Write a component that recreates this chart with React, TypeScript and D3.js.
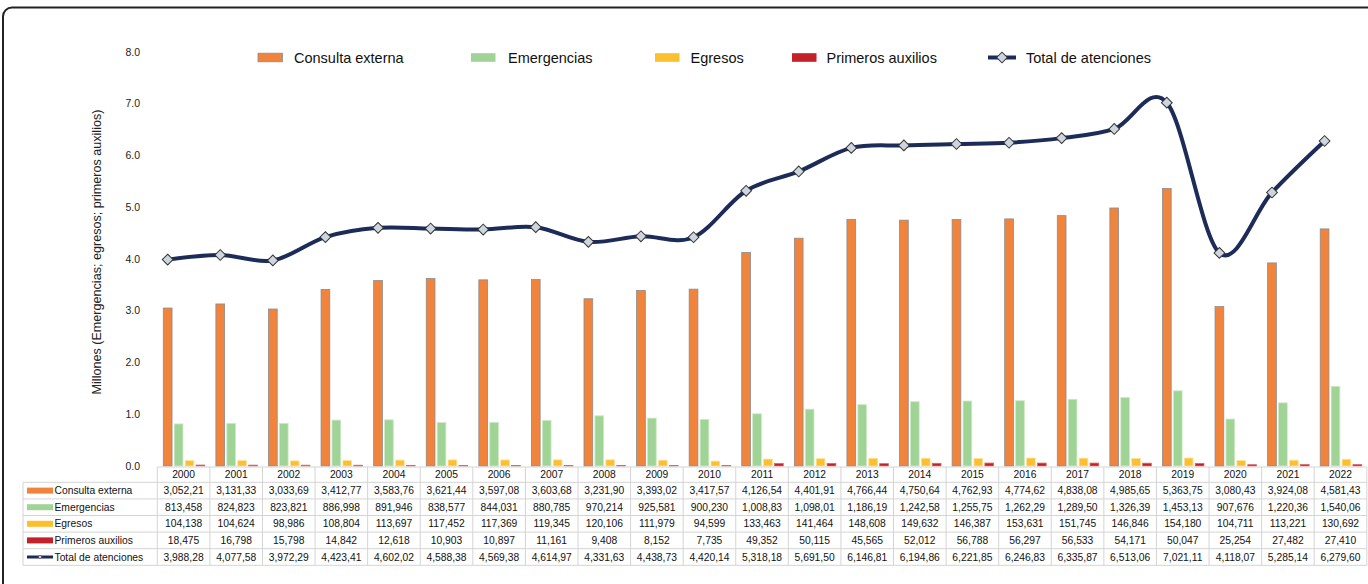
import React from "react";
import * as d3 from "d3";

const years = ["2000","2001","2002","2003","2004","2005","2006","2007","2008","2009","2010","2011","2012","2013","2014","2015","2016","2017","2018","2019","2020","2021","2022"];
const consultaExterna = [3052210,3131330,3033690,3412770,3583760,3621440,3597080,3603680,3231900,3393020,3417570,4126540,4401910,4766440,4750640,4762930,4774620,4838080,4985650,5363750,3080430,3924080,4581430];
const emergencias = [813458,824823,823821,886998,891946,838577,844031,880785,970214,925581,900230,1008830,1098010,1186190,1242580,1255750,1262290,1289500,1326390,1453130,907676,1220360,1540060];
const egresos = [104138,104624,98986,108804,113697,117452,117369,119345,120106,111979,94599,133463,141464,148608,149632,146387,153631,151745,146846,154180,104711,113221,130692];
const primerosAuxilios = [18475,16798,15798,14842,12618,10903,10897,11161,9408,8152,7735,49352,50115,45565,52012,56788,56297,56533,54171,50047,25254,27482,27410];
const totalAtenciones = [3988280,4077580,3972290,4423410,4602020,4588380,4569380,4614970,4331630,4438730,4420140,5318180,5691500,6146810,6194860,6221850,6246830,6335870,6513060,7021110,4118070,5285140,6279600];
const yTicks = [0,1,2,3,4,5,6,7,8];

const barSeries = [
  { name: "Consulta externa", values: consultaExterna, fill: "#F0843C", stroke: "#8c8c8c" },
  { name: "Emergencias", values: emergencias, fill: "#A0D496", stroke: "#cfe9c9" },
  { name: "Egresos", values: egresos, fill: "#FDBF2D", stroke: "#fde3a0" },
  { name: "Primeros auxilios", values: primerosAuxilios, fill: "#C4202A", stroke: "#d66" },
];
const lineName = "Total de atenciones";

const FONT = "'Liberation Sans', Arial, Helvetica, sans-serif";
const NAVY = "#1C2B58";

function fmt(v: number) {
  const s = d3.format(",")(v);
  return v >= 1e6 ? s.slice(0, -1) : s;
}

export default function App() {
  const W = 1368, H = 584;
  const x0 = 157.3, x1 = 1366.8;
  const x = d3.scaleBand<string>().domain(years).range([x0, x1]).padding(0);
  const step = x.step();
  const inner = d3.scaleBand<string>().domain(barSeries.map(s => s.name)).range([6, 47.5]).paddingInner(0.2);
  const y = d3.scaleLinear().domain([0, 8]).range([466, 52]);

  const lineX = (i: number) => (x(years[i]) as number) + (inner(barSeries[0].name) as number) + inner.bandwidth() / 2;
  const line = d3.line<number>()
    .x((_, i) => lineX(i))
    .y(d => y(d / 1e6))
    .curve(d3.curveCardinal.tension(0));
  const diamond = d3.symbol().type(d3.symbolSquare).size(58)();

  // table
  const tTop = 467, headerH = 15.3, rowH = 16.6, labelX = 23;
  const rows = [...barSeries.map(s => ({ name: s.name, values: s.values, fill: s.fill, line: false })), { name: lineName, values: totalAtenciones, fill: NAVY, line: true }];
  const tBottom = tTop + headerH + rows.length * rowH;
  const gridColor = "#d4d4d4";

  const legendItems = [
    { sx: 258, tx: 294 },
    { sx: 471, tx: 508 },
    { sx: 655, tx: 690.5 },
    { sx: 792, tx: 826.5 },
    { sx: 988, tx: 1026 },
  ];

  return (
    <svg width={W} height={H} style={{ position: "absolute", left: 0, top: 0, background: "#fff" }} fontFamily={FONT}>
      <rect x={3} y={7.5} width={1400} height={620} rx={9} fill="none" stroke="#222" strokeWidth={2} />

      {/* y axis labels */}
      {yTicks.map(t => (
        <text key={t} x={140} y={y(t)} dy="0.35em" textAnchor="end" fontSize={10.5} fill="#222">{t.toFixed(1)}</text>
      ))}
      <text transform={`translate(97,${252}) rotate(-90)`} textAnchor="middle" dy="0.35em" fontSize={12.6} fill="#222">
        Millones (Emergencias; egresos; primeros auxilios)
      </text>

      {/* bars */}
      {barSeries.map(s => (
        <g key={s.name}>
          {s.values.map((v, i) => {
            const bx = (x(years[i]) as number) + (inner(s.name) as number);
            const by = y(v / 1e6);
            return <rect key={i} x={bx} y={by} width={inner.bandwidth()} height={y(0) - by} fill={s.fill} stroke={s.stroke} strokeWidth={0.8} />;
          })}
        </g>
      ))}

      {/* line */}
      <path d={line(totalAtenciones) || ""} fill="none" stroke={NAVY} strokeWidth={4} />
      {totalAtenciones.map((v, i) => (
        <path key={i} d={diamond || ""} transform={`translate(${lineX(i)},${y(v / 1e6)}) rotate(45)`} fill="#CDD5DF" stroke="#333" strokeWidth={1} />
      ))}

      {/* legend */}
      {barSeries.map((s, k) => (
        <g key={s.name}>
          <rect x={legendItems[k].sx} y={53.2} width={24.5} height={8.6} fill={s.fill} stroke={k === 0 ? "#8c8c8c" : "none"} strokeWidth={0.8} />
          <text x={legendItems[k].tx} y={57.5} dy="0.35em" fontSize={14.5} fill="#111">{s.name}</text>
        </g>
      ))}
      <g>
        <line x1={legendItems[4].sx} x2={legendItems[4].sx + 28} y1={57.5} y2={57.5} stroke={NAVY} strokeWidth={4} />
        <path d={diamond || ""} transform={`translate(${legendItems[4].sx + 14},57.5) rotate(45)`} fill="#CDD5DF" stroke="#333" strokeWidth={1} />
        <text x={legendItems[4].tx} y={57.5} dy="0.35em" fontSize={14.5} fill="#111">{lineName}</text>
      </g>

      {/* data table */}
      <g>
        {years.map(yr => (
          <g key={yr}>
            <text x={(x(yr) as number) + step / 2} y={tTop + headerH / 2} dy="0.35em" textAnchor="middle" fontSize={10.3} fill="#111">{yr}</text>
          </g>
        ))}
        <line x1={x0} x2={x1} y1={tTop} y2={tTop} stroke={gridColor} />
        {rows.map((_, r) => (
          <line key={r} x1={labelX} x2={x1} y1={tTop + headerH + r * rowH} y2={tTop + headerH + r * rowH} stroke={gridColor} />
        ))}
        <line x1={labelX} x2={x1} y1={tBottom} y2={tBottom} stroke={gridColor} />
        <line x1={labelX} x2={labelX} y1={tTop + headerH} y2={tBottom} stroke={gridColor} />
        {years.map(yr => (
          <line key={yr} x1={x(yr) as number} x2={x(yr) as number} y1={tTop} y2={tBottom} stroke={gridColor} />
        ))}
        <line x1={x1} x2={x1} y1={tTop} y2={tBottom} stroke={gridColor} />
        {rows.map((row, r) => {
          const cy = tTop + headerH + r * rowH + rowH / 2;
          return (
            <g key={row.name}>
              {row.line ? (
                <g>
                  <line x1={27} x2={53} y1={cy} y2={cy} stroke={NAVY} strokeWidth={3} />
                  <circle cx={40} cy={cy} r={1.6} fill="#CDD5DF" stroke="#333" strokeWidth={0.5} />
                </g>
              ) : (
                <rect x={27} y={cy - 3} width={26} height={6} fill={row.fill} />
              )}
              <text x={54.5} y={cy} dy="0.35em" fontSize={10.3} fill="#111">{row.name}</text>
              {row.values.map((v, i) => (
                <text key={i} x={(x(years[i]) as number) + step / 2} y={cy} dy="0.35em" textAnchor="middle" fontSize={10.3} fill="#111">{fmt(v)}</text>
              ))}
            </g>
          );
        })}
      </g>
    </svg>
  );
}
